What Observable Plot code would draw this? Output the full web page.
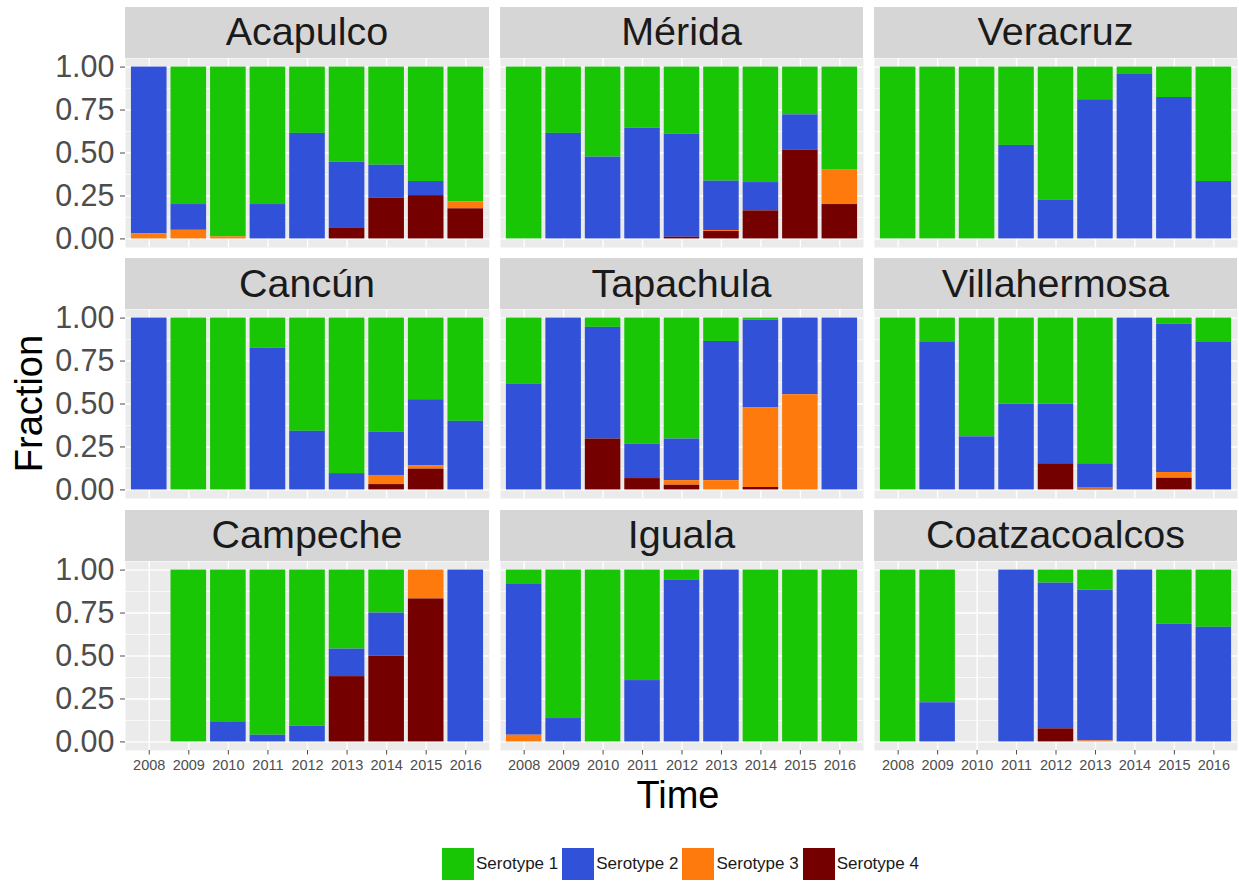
<!DOCTYPE html>
<html><head><meta charset="utf-8">
<script src="https://cdn.jsdelivr.net/npm/d3@7"></script>
<script src="https://cdn.jsdelivr.net/npm/@observablehq/plot@0.6"></script>
<style>
body{margin:0;background:#fff;font-family:"Liberation Sans",Arial,sans-serif;}
#chart{position:relative;width:1239px;height:884px;overflow:hidden;background:#fff;}
.strip{position:absolute;background:#D6D6D6;color:#1A1A1A;font-size:39.5px;display:flex;align-items:center;justify-content:center;line-height:1;}
.panel{position:absolute;}
.legend{position:absolute;display:flex;align-items:center;font-size:17px;color:#1A1A1A;}
.legend .sw{width:32px;height:32px;margin-right:2px;}
.legend .lb{margin-right:4px;white-space:nowrap;}
</style></head><body><div id="chart"></div>
<script>
const years = ["2008","2009","2010","2011","2012","2013","2014","2015","2016"];
const cities = ["Acapulco","Mérida","Veracruz","Cancún","Tapachula","Villahermosa","Campeche","Iguala","Coatzacoalcos"];
const serotypes = ["Serotype 1","Serotype 2","Serotype 3","Serotype 4"];
const serotypeColors = ["#19C605","#3152D8","#FF7A0C","#740000"];
const stackOrder = ["Serotype 4","Serotype 3","Serotype 2","Serotype 1"];
const yTicks = [0, 0.25, 0.5, 0.75, 1];
const yMinorTicks = [0.125, 0.375, 0.625, 0.875];

// each city: rows = Serotype 1..4, columns = years 2008..2016 (null = no data)
const acapulco = [
  [0, 0.80, 0.988, 0.80, 0.386, 0.553, 0.571, 0.666, 0.784],
  [0.97, 0.15, 0, 0.20, 0.614, 0.383, 0.192, 0.082, 0],
  [0.03, 0.05, 0.012, 0, 0, 0, 0, 0, 0.041],
  [0, 0, 0, 0, 0, 0.064, 0.237, 0.252, 0.175]
];
const merida = [
  [1, 0.386, 0.524, 0.355, 0.39, 0.664, 0.672, 0.278, 0.6],
  [0, 0.614, 0.476, 0.645, 0.60, 0.287, 0.165, 0.205, 0],
  [0, 0, 0, 0, 0, 0.006, 0, 0, 0.2],
  [0, 0, 0, 0, 0.01, 0.043, 0.163, 0.517, 0.2]
];
const veracruz = [
  [1, 1, 1, 0.456, 0.773, 0.19, 0.043, 0.177, 0.666],
  [0, 0, 0, 0.544, 0.227, 0.81, 0.957, 0.823, 0.334],
  [0, 0, 0, 0, 0, 0, 0, 0, 0],
  [0, 0, 0, 0, 0, 0, 0, 0, 0]
];
const cancun = [
  [0, 1, 1, 0.175, 0.659, 0.905, 0.665, 0.475, 0.601],
  [1, 0, 0, 0.825, 0.341, 0.095, 0.251, 0.385, 0.399],
  [0, 0, 0, 0, 0, 0, 0.053, 0.019, 0],
  [0, 0, 0, 0, 0, 0, 0.031, 0.121, 0]
];
const tapachula = [
  [0.383, 0, 0.054, 0.733, 0.704, 0.136, 0.012, 0, 0],
  [0.617, 1, 0.65, 0.201, 0.242, 0.81, 0.511, 0.446, 1],
  [0, 0, 0, 0, 0.027, 0.054, 0.463, 0.554, 0],
  [0, 0, 0.296, 0.066, 0.027, 0, 0.014, 0, 0]
];
const villahermosa = [
  [1, 0.142, 0.691, 0.5, 0.5, 0.848, 0, 0.035, 0.142],
  [0, 0.858, 0.309, 0.5, 0.348, 0.142, 1, 0.864, 0.858],
  [0, 0, 0, 0, 0, 0.006, 0, 0.033, 0],
  [0, 0, 0, 0, 0.152, 0.004, 0, 0.068, 0]
];
const campeche = [
  [null, 1, 0.883, 0.961, 0.908, 0.46, 0.25, 0, 0],
  [null, 0, 0.117, 0.039, 0.092, 0.16, 0.251, 0, 1],
  [null, 0, 0, 0, 0, 0, 0, 0.168, 0],
  [null, 0, 0, 0, 0, 0.38, 0.499, 0.832, 0]
];
const iguala = [
  [0.08, 0.864, 1, 0.643, 0.06, 0, 1, 1, 1],
  [0.881, 0.136, 0, 0.357, 0.94, 1, 0, 0, 0],
  [0.039, 0, 0, 0, 0, 0, 0, 0, 0],
  [0, 0, 0, 0, 0, 0, 0, 0, 0]
];
const coatzacoalcos = [
  [1, 0.772, null, 0, 0.076, 0.117, 0, 0.314, 0.333],
  [0, 0.228, null, 1, 0.848, 0.877, 1, 0.686, 0.667],
  [0, 0, null, 0, 0, 0.006, 0, 0, 0],
  [0, 0, null, 0, 0.076, 0, 0, 0, 0]
];
const cityValues = [acapulco, merida, veracruz, cancun, tapachula, villahermosa, campeche, iguala, coatzacoalcos];

// build long table
const rows = [];
cities.forEach((city, ci) => {
  cityValues[ci].forEach((vals, si) => {
    vals.forEach((v, yi) => {
      if (v != null && v > 0) rows.push({city, year: years[yi], serotype: serotypes[si], value: v});
    });
  });
});

// layout
const colLeft = [125, 500, 874];
const panelW = [364, 363, 363];
const rowTop = [57.5, 309, 560.5];
const panelH = 189;
const stripH = 51;
const font = "'Liberation Sans', Arial, sans-serif";
const chart = document.getElementById("chart");

cities.forEach((city, ci) => {
  const r = Math.floor(ci / 3), c = ci % 3;
  const isLeft = c === 0, isBottom = r === 2;
  const ml = isLeft ? colLeft[0] : 0;
  const mb = isBottom ? 30 : 0;
  const marks = [
    Plot.frame({fill: "#EBEBEB", stroke: null}),
    Plot.gridY(yMinorTicks, {stroke: "white", strokeOpacity: 1, strokeWidth: 0.7}),
    Plot.gridY(yTicks, {stroke: "white", strokeOpacity: 1, strokeWidth: 1.4}),
    Plot.gridX(years, {stroke: "white", strokeOpacity: 1, strokeWidth: 1.4}),
    Plot.barY(rows.filter(d => d.city === city),
      Plot.stackY({x: "year", y: "value", fill: "serotype", order: stackOrder}))
  ];
  if (isLeft) marks.push(Plot.axisY(yTicks, {tickSize: 5, tickPadding: 6, fontSize: 30.5,
    tickFormat: d3.format(".2f"), color: "#4D4D4D", label: null}));
  if (isBottom) marks.push(Plot.axisX({tickSize: 4.5, tickPadding: 4.5, fontSize: 14.5, color: "#4D4D4D", label: null}));
  const svg = Plot.plot({
    width: panelW[c] + ml,
    height: panelH + mb,
    marginLeft: ml, marginRight: 0, marginTop: 0, marginBottom: mb,
    x: {type: "band", domain: years, paddingInner: 0.1, paddingOuter: 0.15, round: false, axis: null, label: null},
    y: {domain: [-0.05, 1.05], axis: null, label: null},
    color: {domain: serotypes, range: serotypeColors},
    style: {fontFamily: font, background: "transparent", overflow: "visible"},
    marks
  });
  svg.classList.add("panel");
  svg.style.left = (isLeft ? 0 : colLeft[c]) + "px";
  svg.style.top = rowTop[r] + "px";
  chart.appendChild(svg);

  const strip = document.createElement("div");
  strip.className = "strip";
  strip.textContent = city;
  strip.style.left = colLeft[c] + "px";
  strip.style.top = (rowTop[r] - stripH) + "px";
  strip.style.width = panelW[c] + "px";
  strip.style.height = stripH + "px";
  chart.appendChild(strip);
});

// axis titles
const titles = d3.select(chart).append("svg")
  .attr("width", 1239).attr("height", 884)
  .style("position", "absolute").style("left", 0).style("top", 0)
  .style("pointer-events", "none").style("font-family", font);
titles.append("text")
  .attr("transform", `translate(42,${(rowTop[0] + rowTop[2] + panelH) / 2}) rotate(-90)`)
  .attr("text-anchor", "middle").attr("font-size", 38).attr("fill", "#000").text("Fraction");
titles.append("text")
  .attr("x", (colLeft[0] + colLeft[2] + panelW[2]) / 2 - 3).attr("y", 808)
  .attr("text-anchor", "middle").attr("font-size", 38).attr("fill", "#000").text("Time");

// legend
const legend = document.createElement("div");
legend.className = "legend";
legend.style.left = "442px";
legend.style.top = "848px";
serotypes.forEach((s, i) => {
  const sw = document.createElement("div");
  sw.className = "sw";
  sw.style.background = serotypeColors[i];
  const lb = document.createElement("span");
  lb.className = "lb";
  lb.textContent = s;
  legend.appendChild(sw);
  legend.appendChild(lb);
});
chart.appendChild(legend);
</script></body></html>
